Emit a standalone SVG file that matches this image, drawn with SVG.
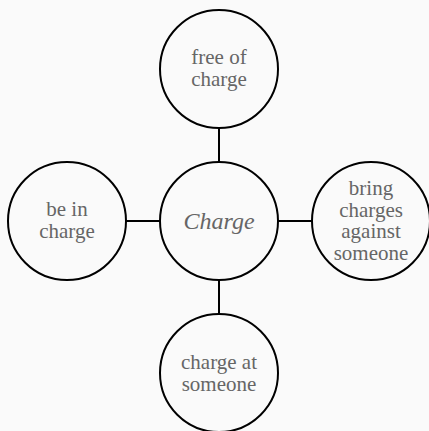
<svg xmlns="http://www.w3.org/2000/svg" width="429" height="431" viewBox="0 0 429 431">
<style>
.bg{fill:#fafafa}
.node circle{fill:#fafafa;stroke:#000;stroke-width:2}
.node text{font-family:"Liberation Serif","Times New Roman",serif;font-size:21px;fill:#666;text-anchor:middle}
.node text.main{font-style:italic;font-size:24px}
.conn line{stroke:#000;stroke-width:2}
</style>
<rect class="bg" x="0" y="0" width="429" height="431"/>
<g id="connectors" class="conn">
<line x1="219" y1="128" x2="219" y2="162"/>
<line x1="126" y1="221" x2="160" y2="221"/>
<line x1="278" y1="221" x2="312" y2="221"/>
<line x1="219" y1="280" x2="219" y2="314"/>
</g>
<g id="node-center" class="node">
<circle cx="219" cy="221" r="59"/>
<text class="main" x="219" y="229">Charge</text>
</g>
<g id="node-top" class="node">
<circle cx="219" cy="69" r="59"/>
<text x="219" y="64">free of</text>
<text x="219" y="86">charge</text>
</g>
<g id="node-left" class="node">
<circle cx="67" cy="221" r="59"/>
<text x="67" y="216">be in</text>
<text x="67" y="238">charge</text>
</g>
<g id="node-right" class="node">
<circle cx="371" cy="221" r="59"/>
<text x="371" y="195">bring</text>
<text x="371" y="216.5">charges</text>
<text x="371" y="238">against</text>
<text x="371" y="259.5">someone</text>
</g>
<g id="node-bottom" class="node">
<circle cx="219" cy="373" r="59"/>
<text x="219" y="369">charge at</text>
<text x="219" y="391">someone</text>
</g>
</svg>
